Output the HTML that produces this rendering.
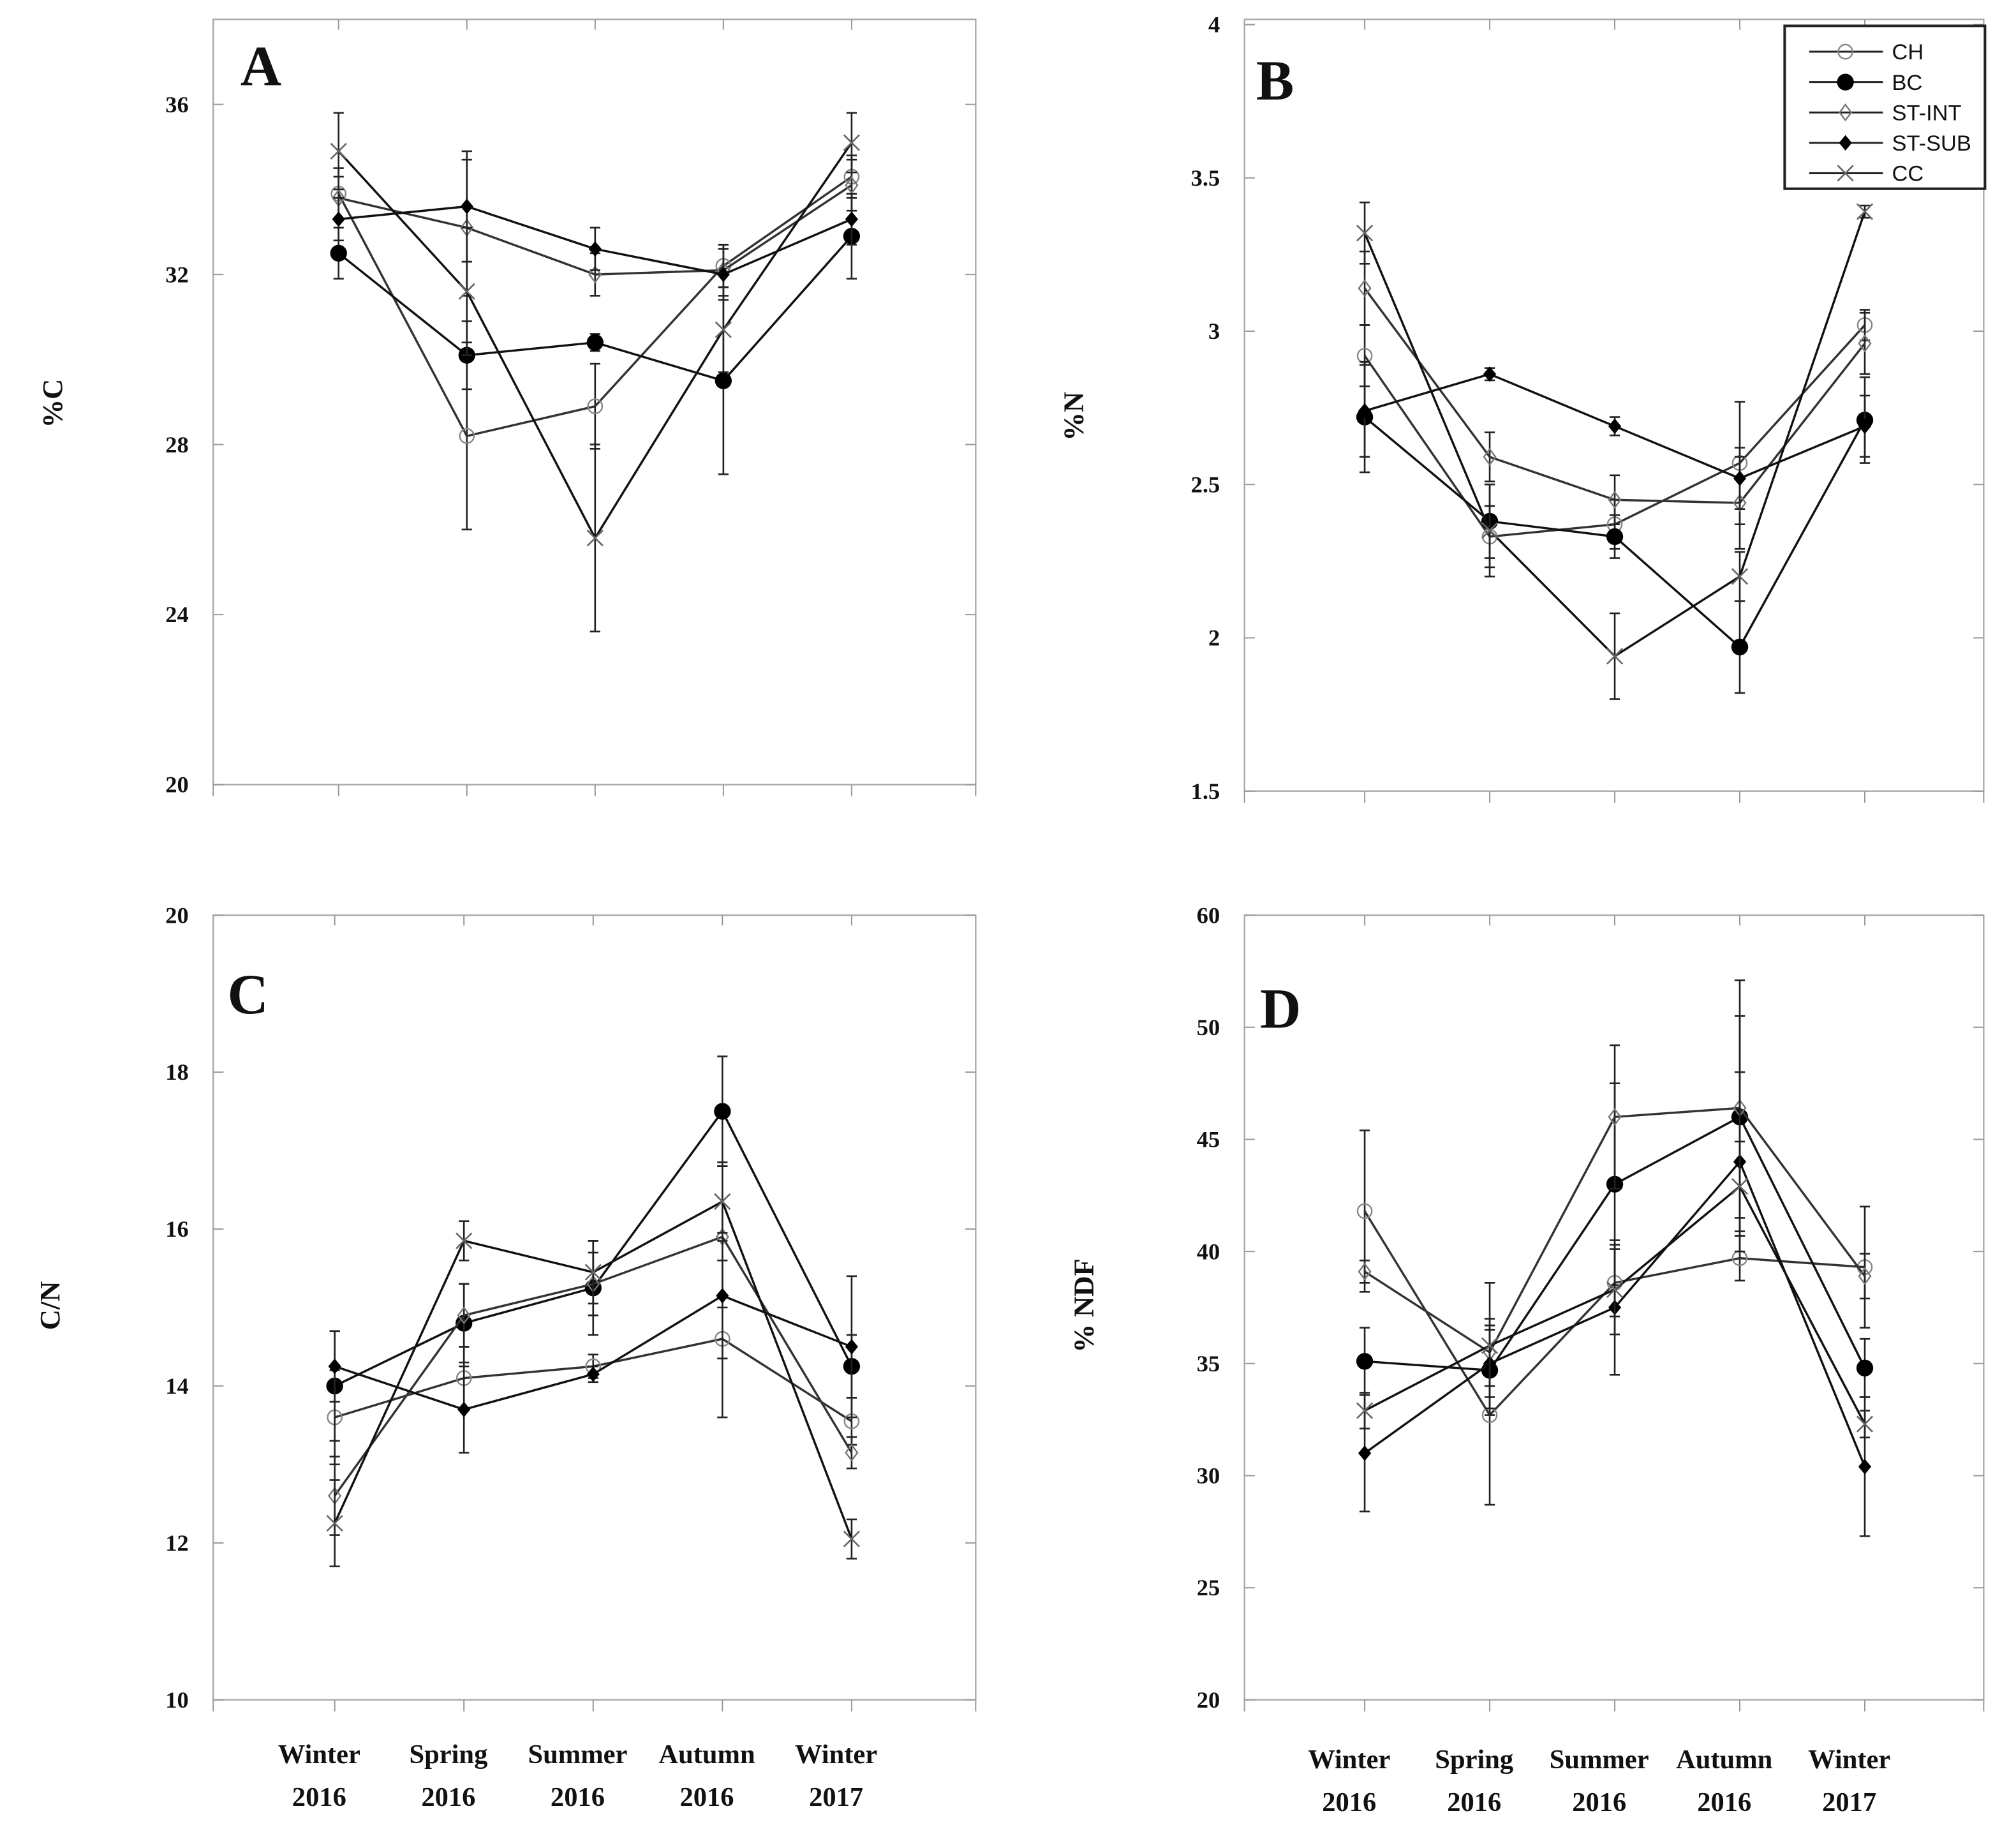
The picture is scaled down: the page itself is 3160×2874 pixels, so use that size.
<!DOCTYPE html>
<html><head><meta charset="utf-8"><style>
html,body{margin:0;padding:0;background:#fff;width:3160px;height:2874px;overflow:hidden}
svg{display:block}
text{font-family:"Liberation Serif",serif;font-weight:bold;fill:#111}
</style></head><body>
<svg id="fig" width="3160" height="2874" viewBox="0 0 1560 1418.8" preserveAspectRatio="none" xmlns="http://www.w3.org/2000/svg"></svg>
<script>
// ---- data ----
const categories = ["Winter 2016","Spring 2016","Summer 2016","Autumn 2016","Winter 2017"];
const seriesNames = ["CH","BC","ST-INT","ST-SUB","CC"];
// Panel A %C
const aCH=[33.9,28.2,28.9,32.2,34.3], aBC=[32.5,30.1,30.4,29.5,32.9], aINT=[33.8,33.1,32.0,32.1,34.1], aSUB=[33.3,33.6,32.6,32.0,33.3], aCC=[34.9,31.6,25.8,30.7,35.1];
const aCHe=[0.6,2.2,1.0,0.5,0.5], aBCe=[0.6,0.8,0.2,2.2,1.0], aINTe=[0.5,1.6,0.5,0.6,0.6], aSUBe=[0.5,1.3,0.5,0.6,0.6], aCCe=[0.9,1.5,2.2,1.0,0.7];
const aTicks=["20","24","28","32","36"], aTickVals=[20,24,28,32,36];
// Panel B %N
const bCH=[2.92,2.33,2.37,2.57,3.02], bBC=[2.72,2.38,2.33,1.97,2.71], bINT=[3.14,2.59,2.45,2.44,2.96], bSUB=[2.74,2.86,2.69,2.52,2.69], bCC=[3.32,2.35,1.94,2.20,3.39];
const bCHe=[0.1,0.1,0.08,0.2,0.05], bBCe=[0.18,0.12,0.07,0.15,0.14], bINTe=[0.12,0.08,0.08,0.15,0.1], bSUBe=[0.15,0.02,0.03,0.1,0.1], bCCe=[0.1,0.15,0.14,0.08,0.02];
const bTicks=["1.5","2","2.5","3","3.5","4"], bTickVals=[1.5,2,2.5,3,3.5,4];
// Panel C C/N
const cCH=[13.6,14.1,14.25,14.6,13.55], cBC=[14.0,14.8,15.25,17.5,14.25], cINT=[12.6,14.9,15.3,15.9,13.15], cSUB=[14.25,13.7,14.15,15.15,14.5], cCC=[12.25,15.85,15.45,16.35,12.05];
const cCHe=[0.6,0.4,0.15,1.0,0.3], cBCe=[0.7,0.5,0.6,0.7,0.4], cINTe=[0.5,0.4,0.4,0.9,0.2], cSUBe=[0.45,0.55,0.1,0.8,0.9], cCCe=[0.55,0.25,0.4,0.5,0.25];
const cTicks=["10","12","14","16","18","20"], cTickVals=[10,12,14,16,18,20];
// Panel D %NDF
const dCH=[41.8,32.7,38.6,39.7,39.3], dBC=[35.1,34.7,43.0,46.0,34.8], dINT=[39.1,35.5,46.0,46.4,38.9], dSUB=[31.0,35.0,37.5,44.0,30.4], dCC=[32.9,35.8,38.3,42.9,32.3];
const dCHe=[3.6,4.0,1.5,1.0,2.7], dBCe=[1.5,2.0,4.5,4.5,1.3], dINTe=[0.5,1.5,3.2,5.7,1.0], dSUBe=[2.6,1.5,3.0,4.0,3.1], dCCe=[0.8,2.8,2.0,2.0,0.6];
const dTicks=["20","25","30","35","40","45","50","60"], dTickVals=[20,25,30,35,40,45,50,55];

const NS="http://www.w3.org/2000/svg";
const svg=document.getElementById('fig');
function mk(tag,attrs,parent){const e=document.createElementNS(NS,tag);for(const k in attrs)e.setAttribute(k,attrs[k]);(parent||svg).appendChild(e);return e;}

function marker(g,type,x,y){
  let m;
  if(type==="CH"){m=mk('circle',{cx:x,cy:y,r:5.5,fill:'#fff','fill-opacity':0,stroke:'#888','stroke-width':1.2},g);}
  else if(type==="BC"){m=mk('circle',{cx:x,cy:y,r:6.5,fill:'#000'},g);}
  else if(type==="ST-INT"){m=mk('path',{d:`M${x},${y-6}L${x+4.5},${y}L${x},${y+6}L${x-4.5},${y}Z`,fill:'none',stroke:'#777','stroke-width':1.2},g);}
  else if(type==="ST-SUB"){m=mk('path',{d:`M${x},${y-6}L${x+5},${y}L${x},${y+6}L${x-5},${y}Z`,fill:'#000'},g);}
  else {m=mk('path',{d:`M${x-6},${y-6}L${x+6},${y+6}M${x-6},${y+6}L${x+6},${y-6}`,stroke:'#666','stroke-width':1.3,fill:'none'},g);}
  
  
}

function panel(opt){
  const g=mk('g',{});
  
  
  const {L,R,T,B,vmin,vmax,xs}=opt;
  const y=v=>B-(v-vmin)/(vmax-vmin)*(B-T);
  const x=i=>xs[0]+i*(xs[1]-xs[0])/4;
  const box=mk('rect',{x:L,y:T,width:R-L,height:B-T,fill:'none',stroke:'#aaa','stroke-width':1.2},g);
  
  
  for(let i=0;i<5;i++){
    mk('line',{x1:x(i),x2:x(i),y1:T,y2:T+8,stroke:'#999','stroke-width':1},g);
    mk('line',{x1:x(i),x2:x(i),y1:B,y2:B+9,stroke:'#999','stroke-width':1},g);
  }
  mk('line',{x1:L,x2:L,y1:B,y2:B+9,stroke:'#999','stroke-width':1},g);
  mk('line',{x1:R,x2:R,y1:B,y2:B+9,stroke:'#999','stroke-width':1},g);
  opt.tickVals.forEach((v,i)=>{
    mk('line',{x1:L,x2:L+8,y1:y(v),y2:y(v),stroke:'#999','stroke-width':1},g);
    mk('line',{x1:R-8,x2:R,y1:y(v),y2:y(v),stroke:'#999','stroke-width':1},g);
    const t=mk('text',{x:L-19,y:y(v)+6,'text-anchor':'end','font-size':18},g);
    t.textContent=opt.ticks[i];
    
    
  });
  const yt=mk('text',{x:0,y:0,'text-anchor':'middle','font-size':22,transform:`translate(${opt.ytx},${opt.yty}) rotate(-90)`},g);
  yt.textContent=opt.ytitle;
  
  
  const lt=mk('text',{x:opt.lx,y:opt.ly,'font-size':44},g);
  lt.textContent=opt.letter;
  
  
  if(opt.xlab){
    categories.forEach((c,i)=>{
      const parts=c.split(' ');
      const t1=mk('text',{x:x(i)-12,y:opt.xly,'text-anchor':'middle','font-size':21},g);
      t1.textContent=parts[0];
      
      
      const t2=mk('text',{x:x(i)-12,y:opt.xly+33,'text-anchor':'middle','font-size':21},g);
      t2.textContent=parts[1];
      
      
    });
  }
  opt.series.forEach((s,si)=>{
    const sg=mk('g',{},g);
    
    
    const vals=s[0],errs=s[1];
    const col=(si===0||si===2)?'#333':'#111';
    vals.forEach((v,i)=>{
      const e=mk('path',{d:`M${x(i)},${y(v-errs[i])}V${y(v+errs[i])}M${x(i)-4},${y(v-errs[i])}H${x(i)+4}M${x(i)-4},${y(v+errs[i])}H${x(i)+4}`,stroke:'#222','stroke-width':1.3,fill:'none'},sg);
      
      
    });
    const pl=mk('polyline',{points:vals.map((v,i)=>x(i)+','+y(v)).join(' '),fill:'none',stroke:col,'stroke-width':1.7},sg);
    
    
    vals.forEach((v,i)=>marker(sg,seriesNames[si],x(i),y(v)));
  });
}

panel({letter:'A',L:165,R:755,T:15,B:607,vmin:20,vmax:38,xs:[262,659],ticks:aTicks,tickVals:aTickVals,ytitle:'%C',ytx:48,yty:312,lx:186,ly:66,
  series:[[aCH,aCHe],[aBC,aBCe],[aINT,aINTe],[aSUB,aSUBe],[aCC,aCCe]]});
panel({letter:'B',L:963,R:1535,T:15,B:612,vmin:1.5,vmax:4.017,xs:[1056,1443],ticks:bTicks,tickVals:bTickVals,ytitle:'%N',ytx:838,yty:322,lx:972,ly:77,
  series:[[bCH,bCHe],[bBC,bBCe],[bINT,bINTe],[bSUB,bSUBe],[bCC,bCCe]]});
panel({letter:'C',L:165,R:755,T:708,B:1315,vmin:10,vmax:20,xs:[259,659],ticks:cTicks,tickVals:cTickVals,ytitle:'C/N',ytx:46,yty:1010,lx:176,ly:784,xlab:true,xly:1364,
  series:[[cCH,cCHe],[cBC,cBCe],[cINT,cINTe],[cSUB,cSUBe],[cCC,cCCe]]});
panel({letter:'D',L:963,R:1535,T:708,B:1315,vmin:20,vmax:55,xs:[1056,1443],ticks:dTicks,tickVals:dTickVals,ytitle:'% NDF',ytx:846,yty:1010,lx:975,ly:795,xlab:true,xly:1368,
  series:[[dCH,dCHe],[dBC,dBCe],[dINT,dINTe],[dSUB,dSUBe],[dCC,dCCe]]});

const lg=mk('g',{});


mk('rect',{x:1381,y:20,width:155,height:126,fill:'#fff',stroke:'#222','stroke-width':2},lg);
seriesNames.forEach((n,i)=>{
  const yy=40+i*23.5;
  const eg=mk('g',{},lg);
  
  
  mk('line',{x1:1400,x2:1457,y1:yy,y2:yy,stroke:'#222','stroke-width':1.5},eg);
  marker(eg,n,1428,yy);
  const t=mk('text',{x:1464,y:yy+6,'font-size':17},eg);
  t.setAttribute('style','font-family:"Liberation Sans",sans-serif;font-weight:normal');
  t.textContent=n;
});
</script>
</body></html>
